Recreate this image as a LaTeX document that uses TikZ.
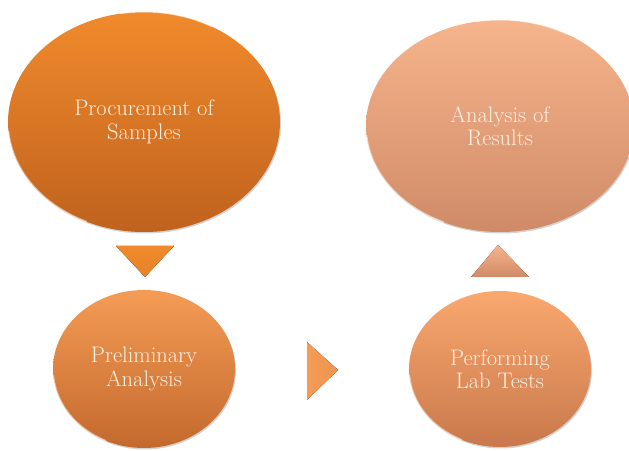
\documentclass[tikz,border=0pt]{standalone}
\usepackage{tikz}
\usetikzlibrary{shapes.geometric, positioning, shadows, calc}
\definecolor{cream}{HTML}{FDF0E2}
\definecolor{darkTop}{HTML}{F08A2C}
\definecolor{darkBot}{HTML}{C0621E}
\definecolor{peachTop}{HTML}{F6B48C}
\definecolor{peachBot}{HTML}{CF8B67}
\definecolor{midTop}{HTML}{F49C55}
\definecolor{midBot}{HTML}{C4692E}
\definecolor{lightTop}{HTML}{F9A86E}
\definecolor{lightBot}{HTML}{C9784C}

\begin{document}
\begin{tikzpicture}[x=1pt,y=1pt,node distance=247pt,
            stage/.style={ellipse, inner sep=0pt, align=center, text=cream,
                font=\fontsize{22.5}{23.5}\selectfont,
                drop shadow={shadow xshift=1pt, shadow yshift=-1.5pt, opacity=0.35}},
            rim/.style={white, opacity=0.55, line width=1.6pt, line cap=round}]
            \useasboundingbox (0,0) rectangle (629,450);

            \node[stage, minimum width=272pt, minimum height=220pt,
                top color=darkTop, bottom color=darkBot] (procure) at (144,328)
                {Procurement of\\Samples};
            \node[stage, minimum width=182pt, minimum height=158pt,
                top color=midTop, bottom color=midBot] (prelim) [below of=procure]
                {Preliminary\\Analysis};
            \node[stage, minimum width=182pt, minimum height=156pt,
                top color=lightTop, bottom color=lightBot] (tests) [right of=prelim, node distance=356pt]
                {Performing\\Lab Tests};
            \node[stage, minimum width=268pt, minimum height=212pt,
                top color=peachTop, bottom color=peachBot] (results) [above of=tests, node distance=243pt]
                {Analysis of\\Results};

            % glossy edges
            \draw[rim] ($(procure.center)+(185:136 and 110)$) arc[start angle=185, end angle=245, x radius=136, y radius=110];
            \draw[rim] ($(prelim.center)+(185:91 and 79)$) arc[start angle=185, end angle=245, x radius=91, y radius=79];
            \draw[rim] ($(tests.center)+(185:91 and 78)$) arc[start angle=185, end angle=245, x radius=91, y radius=78];
            \draw[rim] ($(results.center)+(185:134 and 106)$) arc[start angle=185, end angle=245, x radius=134, y radius=106];
            \draw[rim, line width=1pt] ($(procure.center)+(100:136 and 110)$) arc[start angle=100, end angle=60, x radius=136, y radius=110];
            \draw[rim, line width=1pt] ($(results.center)+(100:134 and 106)$) arc[start angle=100, end angle=60, x radius=134, y radius=106];

            % From procure to prelim
            \fill[top color=darkTop, bottom color=darkTop!80!darkBot] (116,204) -- (174,204) -- (145,173) -- cycle;

            % From prelim to tests
            \fill[left color=midTop, right color=midTop!85!midBot] (307,108) -- (338,80) -- (307,50) -- cycle;

            % From tests to results
            \fill[top color=peachTop, bottom color=peachBot] (498,205) -- (529,173) -- (471,173) -- cycle;

        \end{tikzpicture}
\end{document}
